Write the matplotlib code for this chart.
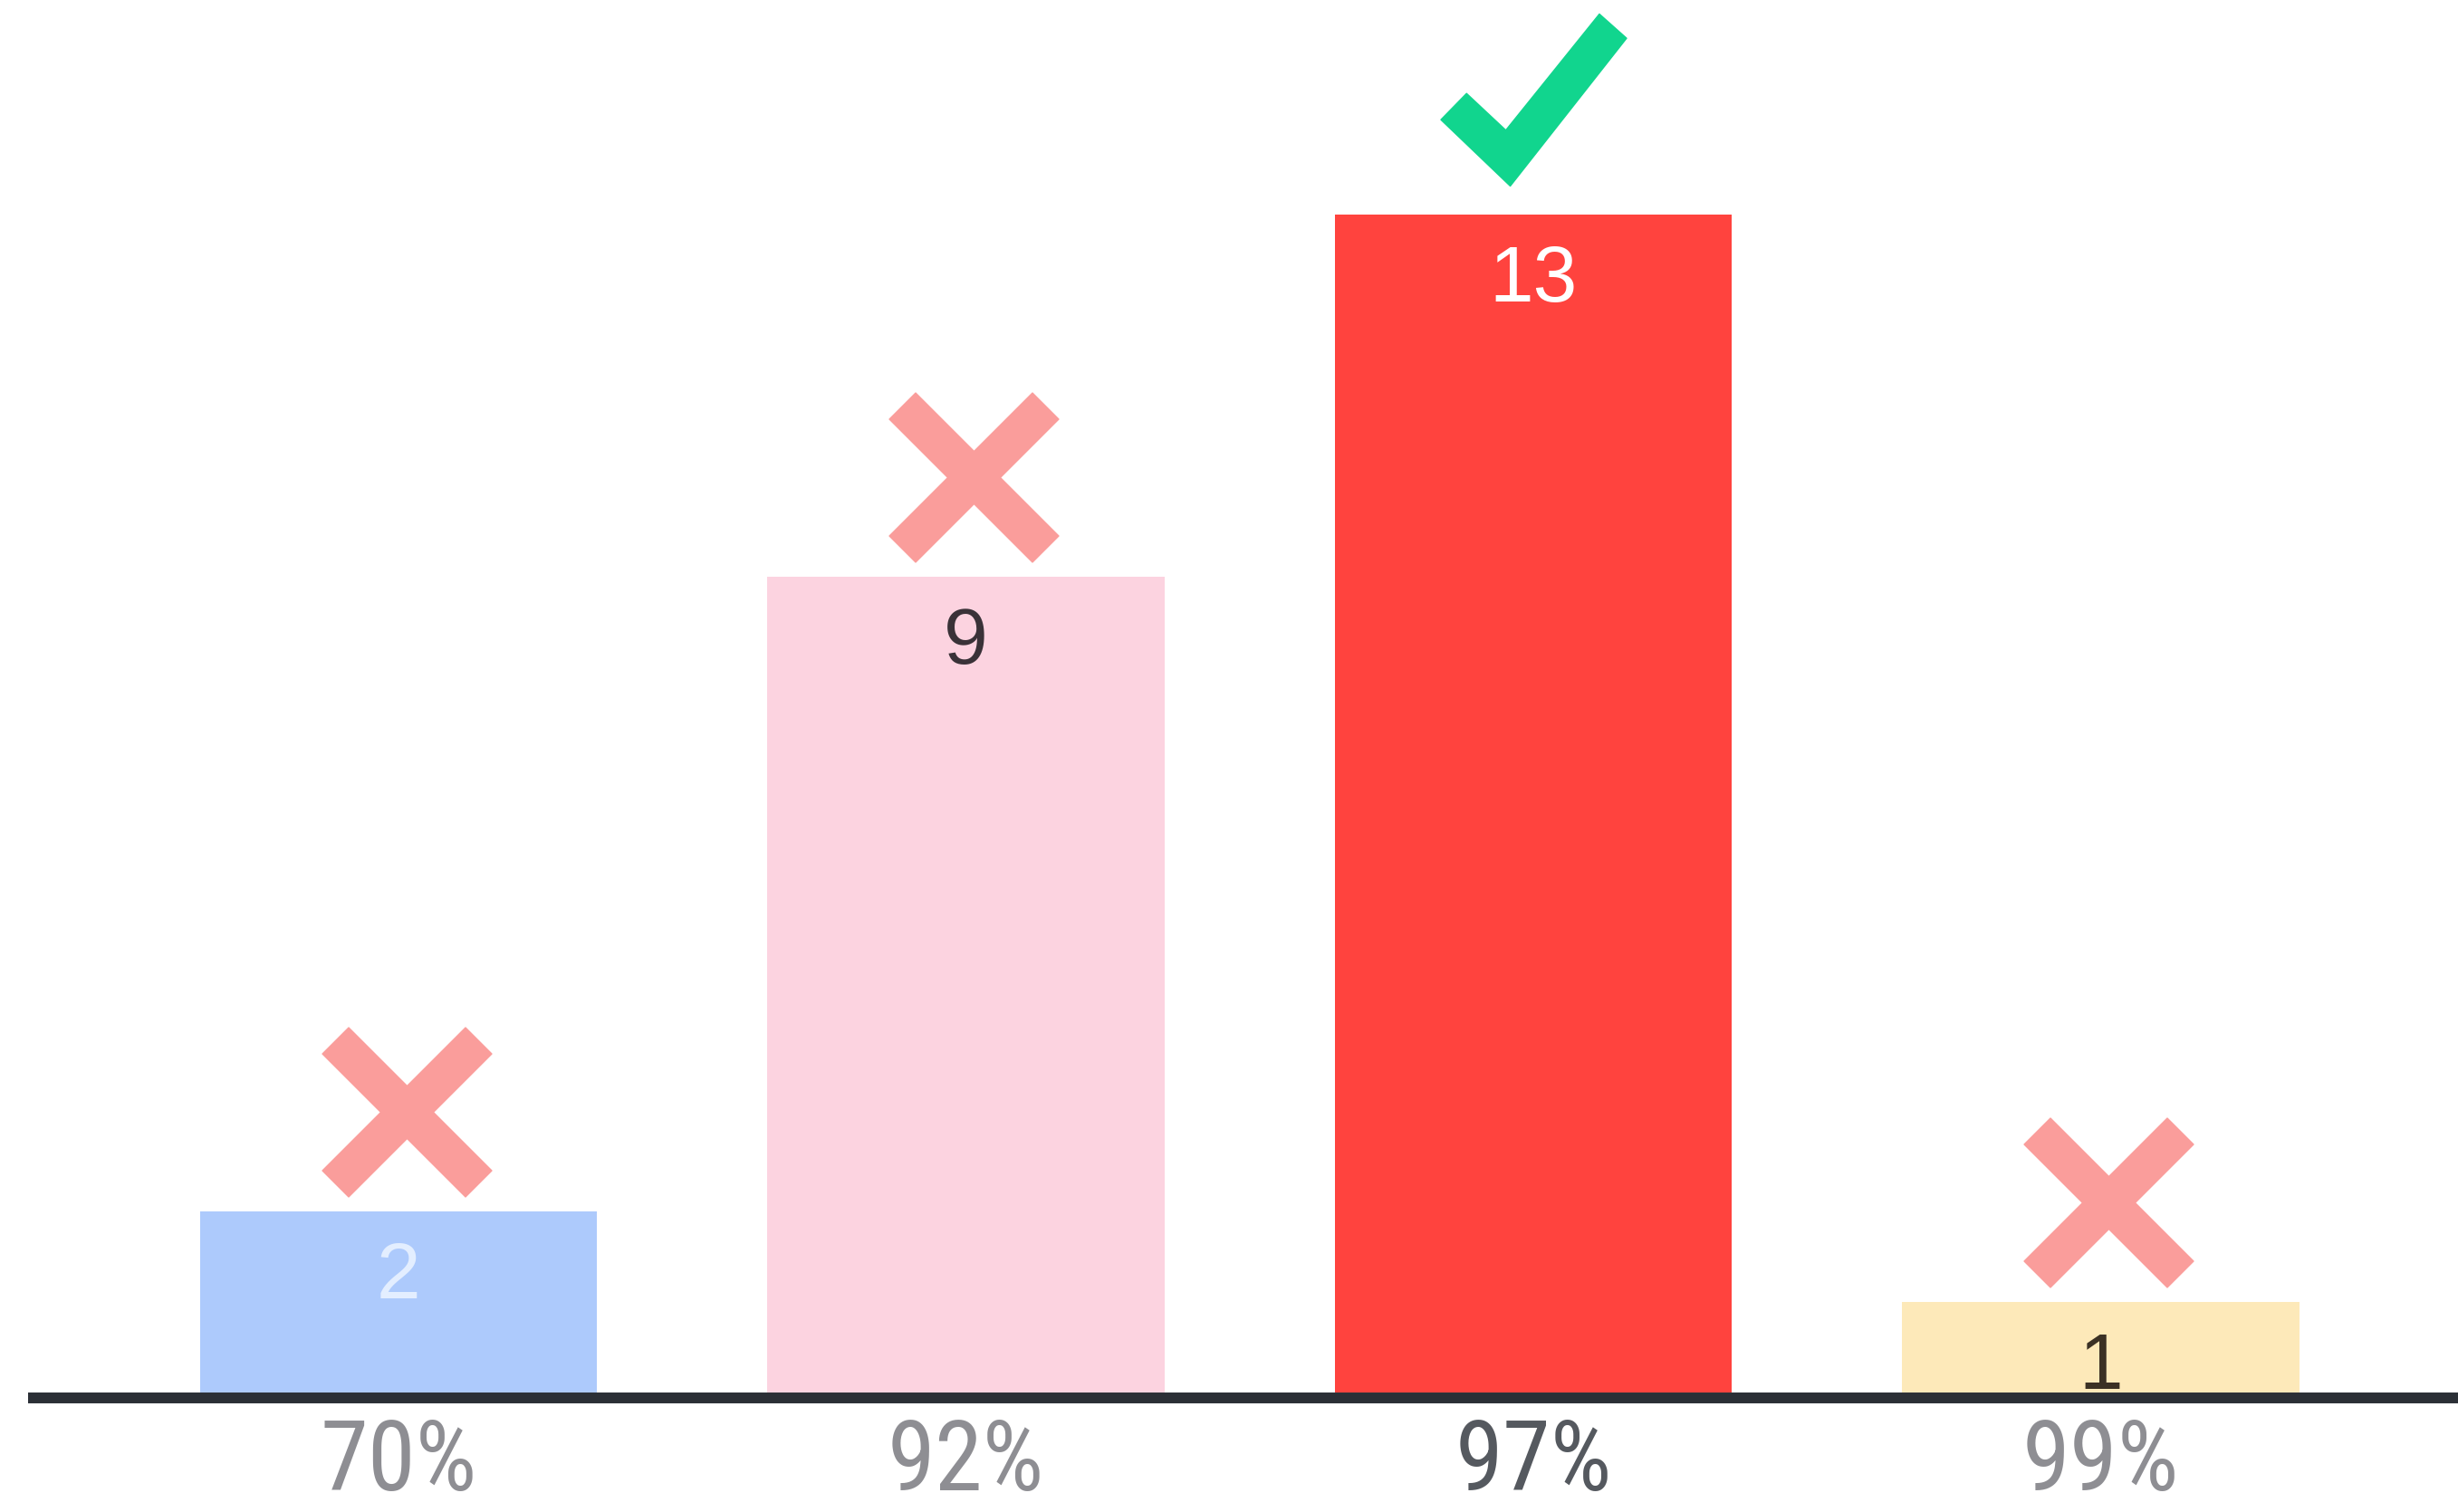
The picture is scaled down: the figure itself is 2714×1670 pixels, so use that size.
import matplotlib
matplotlib.use('Agg')
import matplotlib.pyplot as plt
import numpy as np
from matplotlib.path import Path
from matplotlib import font_manager

# 数据
categories = ['70%', '92%', '97%', '99%']
counts = [2, 9, 13, 1]
bar_colors = ['#adcafc', '#fcd3e0', '#ff433e', '#fde9b9']
count_colors = ['#e3eeff', '#3a3238', '#ffffff', '#3b3124']
tick_colors = ['#8e8e93', '#8e8e93', '#55595f', '#8e8e93']
correct = [False, False, True, False]

plt.rcParams['font.family'] = ['Liberation Sans', 'DejaVu Sans']

# 找一个窄体字体给横轴标签用
names = {f.name for f in font_manager.fontManager.ttflist}
tick_font = dict(family='Liberation Sans', fontsize=66)
for n in ['Liberation Sans Narrow', 'Roboto Condensed', 'Open Sans Condensed']:
    if n in names:
        tick_font = dict(family=n, fontsize=77)
        break
else:
    if any(f.name == 'DejaVu Sans' and f.stretch == 'condensed'
           for f in font_manager.fontManager.ttflist):
        tick_font = dict(family='DejaVu Sans', fontstretch='condensed', fontsize=70)

# 叉号 (X) 的多边形
a = 0.155
cross_verts = [(0, 2 * a), (1 - 2 * a, 1), (1, 1 - 2 * a), (2 * a, 0),
               (1, -(1 - 2 * a)), (1 - 2 * a, -1), (0, -2 * a), (-(1 - 2 * a), -1),
               (-1, -(1 - 2 * a)), (-2 * a, 0), (-1, 1 - 2 * a), (-(1 - 2 * a), 1),
               (0, 2 * a)]
cross_path = Path(cross_verts, closed=True)

# 对号 (check) 的多边形
check_verts = [(-0.724, 0.071), (-0.301, -0.325), (0.707, 0.927), (1.0, 0.666),
               (-0.253, -0.927), (-1.0, -0.212), (-0.724, 0.071)]
check_path = Path(check_verts, closed=True)

fig = plt.figure(figsize=(27.14, 16.70), dpi=100)
ax = fig.add_axes([0.01142, 0.07904, 1 - 0.01142, 0.92096])

x = np.arange(len(categories))
ax.bar(x, counts, width=0.7, color=bar_colors, zorder=2)

# 底部的轴线
ax.axhline(-0.06, color='#2b2f36', lw=8.6, solid_capstyle='butt',
           clip_on=False, zorder=3)

# 柱内的数值
for xi, c, col in zip(x, counts, count_colors):
    ax.text(xi, c - 0.96, '%d' % c, ha='center', va='baseline',
            fontsize=63, color=col, zorder=4)

# 柱上方的标记
for xi, c, ok in zip(x, counts, correct):
    if ok:
        ax.plot(xi, c + 1.27, marker=check_path, markersize=147.6,
                color='#11d58e', markeredgewidth=1, linestyle='none', clip_on=False)
    else:
        ax.plot(xi + 0.014, c + 1.1, marker=cross_path, markersize=134.6,
                color='#fa9d9b', markeredgewidth=1, linestyle='none', clip_on=False)

# 横轴标签
for xi, lbl, col in zip(x, categories, tick_colors):
    ax.text(xi, -1.08, lbl, ha='center', va='baseline', color=col,
            clip_on=False, **tick_font)

ax.set_xlim(-0.653, 3.63)
ax.set_ylim(0, 15.37)
ax.set_xticks([])
ax.set_yticks([])
for s in ax.spines.values():
    s.set_visible(False)

fig.savefig('out.png', dpi=100, facecolor='white')
